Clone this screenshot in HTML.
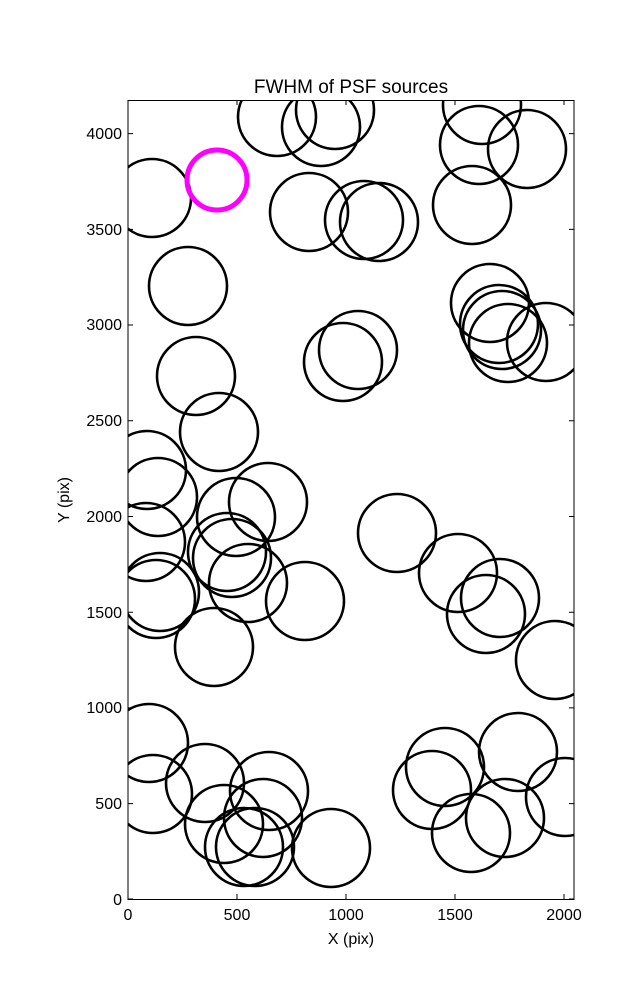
<!DOCTYPE html>
<html><head><style>body{margin:0;background:#fff}</style></head><body>
<svg width="637" height="1000" xmlns="http://www.w3.org/2000/svg" font-family="Liberation Sans, sans-serif">
<defs><clipPath id="c"><rect x="128" y="100.5" width="446" height="799"/></clipPath></defs>
<g clip-path="url(#c)" fill="none" stroke="#000" stroke-width="2.6">
<circle cx="152" cy="198" r="39"/><circle cx="277" cy="117" r="39"/><circle cx="321" cy="127" r="39"/><circle cx="335" cy="110" r="39"/>
<circle cx="482" cy="105" r="39"/><circle cx="479" cy="145" r="39"/><circle cx="527" cy="149" r="39"/>
<circle cx="309" cy="212" r="39"/><circle cx="364" cy="220" r="39"/><circle cx="379" cy="222" r="39"/><circle cx="472" cy="205" r="39"/>
<circle cx="188" cy="286" r="39"/><circle cx="490" cy="303" r="39"/><circle cx="499" cy="324" r="39"/><circle cx="502" cy="330" r="39"/>
<circle cx="508" cy="343" r="39"/><circle cx="546" cy="342" r="39"/><circle cx="358" cy="350" r="39"/><circle cx="343" cy="362" r="39"/>
<circle cx="196" cy="376" r="39"/><circle cx="219" cy="432" r="39"/><circle cx="147" cy="470" r="39"/><circle cx="158" cy="497" r="39"/>
<circle cx="236" cy="517" r="39"/><circle cx="268" cy="502" r="39"/><circle cx="146" cy="542" r="39"/><circle cx="397" cy="533" r="39"/>
<circle cx="227" cy="552" r="39"/><circle cx="232" cy="558" r="39"/><circle cx="248" cy="583" r="39"/><circle cx="160" cy="592" r="39"/>
<circle cx="156" cy="599" r="39"/><circle cx="305" cy="601" r="39"/><circle cx="458" cy="573" r="39"/><circle cx="500" cy="598" r="39"/>
<circle cx="486" cy="614" r="39"/><circle cx="214" cy="647" r="39"/><circle cx="555" cy="660" r="39"/>
<circle cx="149" cy="743" r="39"/><circle cx="153" cy="794" r="39"/><circle cx="205" cy="783" r="39"/><circle cx="269" cy="791" r="39"/>
<circle cx="224" cy="824" r="39"/><circle cx="263" cy="818" r="39"/><circle cx="244" cy="847" r="39"/><circle cx="255" cy="847" r="39"/>
<circle cx="331" cy="848" r="39"/><circle cx="432" cy="790" r="39"/><circle cx="445" cy="767" r="39"/><circle cx="518" cy="752" r="39"/>
<circle cx="505" cy="818" r="39"/><circle cx="471" cy="833" r="39"/><circle cx="565" cy="797" r="39"/>
<circle cx="217" cy="180" r="30" stroke="#ff00ff" stroke-width="5"/>
</g>
<rect x="128" y="100.5" width="446" height="799" fill="none" stroke="#000" stroke-width="1"/>
<g stroke="#000" stroke-width="1">
<path d="M128 899v-5M237 899v-5M346 899v-5M455 899v-5M564 899v-5M128 100v5M237 100v5M346 100v5M455 100v5M564 100v5"/>
<path d="M128 899h5M128 803.6h5M128 707.9h5M128 612.2h5M128 516.5h5M128 420.8h5M128 325h5M128 229.4h5M128 133.6h5"/>
<path d="M574 899h-5M574 803.6h-5M574 707.9h-5M574 612.2h-5M574 516.5h-5M574 420.8h-5M574 325h-5M574 229.4h-5M574 133.6h-5"/>
</g>
<g font-size="16" fill="#000" text-anchor="middle">
<text x="128" y="920">0</text><text x="237" y="920">500</text><text x="346" y="920">1000</text><text x="455" y="920">1500</text><text x="564" y="920">2000</text>
<text x="351" y="944">X (pix)</text>
<text x="351" y="93" font-size="19">FWHM of PSF sources</text>
</g>
<g font-size="16" fill="#000" text-anchor="end">
<text x="122" y="905">0</text><text x="122" y="809">500</text><text x="122" y="713">1000</text><text x="122" y="618">1500</text>
<text x="122" y="522">2000</text><text x="122" y="426">2500</text><text x="122" y="330">3000</text><text x="122" y="235">3500</text><text x="122" y="139">4000</text>
</g>
<text x="69" y="500" font-size="16" text-anchor="middle" transform="rotate(-90 69 500)">Y (pix)</text>
</svg>
</body></html>
